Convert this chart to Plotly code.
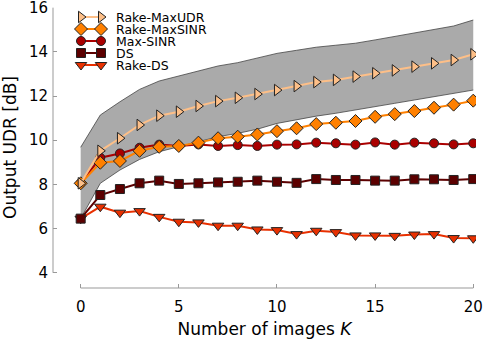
import plotly.graph_objects as go

K = list(range(21))

names = ["Rake-MaxUDR", "Rake-MaxSINR", "Max-SINR", "DS", "Rake-DS"]

rake_maxudr = [8.05, 9.52, 10.09, 10.69, 11.11, 11.29, 11.55, 11.77, 11.92, 12.09, 12.27,
               12.45, 12.63, 12.73, 12.88, 13.03, 13.16, 13.33, 13.48, 13.63, 13.89]
rake_maxsinr = [8.05, 8.98, 9.06, 9.52, 9.70, 9.74, 9.89, 10.09, 10.16, 10.26, 10.41,
                10.54, 10.73, 10.79, 10.87, 11.06, 11.18, 11.32, 11.47, 11.61, 11.79]
max_sinr = [8.05, 9.21, 9.40, 9.66, 9.80, 9.74, 9.81, 9.74, 9.78, 9.74, 9.80,
            9.81, 9.89, 9.86, 9.80, 9.90, 9.80, 9.89, 9.86, 9.81, 9.86]
ds = [6.45, 7.52, 7.79, 8.05, 8.17, 8.02, 8.05, 8.09, 8.12, 8.17, 8.12,
      8.07, 8.24, 8.20, 8.20, 8.17, 8.17, 8.23, 8.23, 8.20, 8.24]
rake_ds = [6.45, 6.99, 6.72, 6.79, 6.53, 6.31, 6.28, 6.13, 6.13, 5.96, 5.93,
           5.75, 5.90, 5.84, 5.69, 5.69, 5.67, 5.73, 5.75, 5.57, 5.56]

# spread of Rake-MaxUDR (shaded band)
band_upper = [9.68, 11.14, 11.74, 12.30, 12.68, 12.91, 13.13, 13.36, 13.51, 13.72, 13.93,
              14.07, 14.21, 14.30, 14.39, 14.54, 14.69, 14.84, 14.99, 15.17, 15.44]
band_lower = [6.45, 8.05, 8.65, 9.13, 9.48, 9.70, 9.93, 10.16, 10.31, 10.50, 10.76,
              10.93, 11.09, 11.22, 11.36, 11.51, 11.67, 11.82, 11.97, 12.12, 12.27]

series = [rake_maxudr, rake_maxsinr, max_sinr, ds, rake_ds]
colors = ["#fdbf88", "#ff8000", "#aa0000", "#5c0000", "#e83000"]
symbols = ["triangle-right", "diamond", "circle", "square", "triangle-down"]
sizes = [10, 10, 9, 9, 10]

fig = go.Figure()

fig.add_trace(go.Scatter(x=K, y=band_lower, mode="lines",
                         line=dict(color="#444444", width=0.8), showlegend=False))
fig.add_trace(go.Scatter(x=K, y=band_upper, mode="lines", fill="tonexty",
                         fillcolor="#aaaaaa", line=dict(color="#444444", width=0.8),
                         showlegend=False))

for name, vals, c, s, sz in reversed(list(zip(names, series, colors, symbols, sizes))):
    fig.add_trace(go.Scatter(
        x=K, y=vals, mode="lines+markers", name=name, showlegend=False,
        line=dict(color=c, width=2),
        marker=dict(symbol=s, size=sz, color=c, line=dict(color="#222222", width=1)),
    ))

# hand-made legend: two markers joined by a line, like matplotlib
for i, (name, c, s, sz) in enumerate(zip(names, colors, symbols, sizes)):
    fig.add_trace(go.Scatter(
        x=[0, 1], y=[i, i], mode="lines+markers", xaxis="x2", yaxis="y2",
        showlegend=False, hoverinfo="skip",
        line=dict(color=c, width=2),
        marker=dict(symbol=s, size=sz, color=c, line=dict(color="#222222", width=1)),
    ))
    fig.add_annotation(x=1.7, y=i, xref="x2", yref="y2", text=name, showarrow=False,
                       xanchor="left", yanchor="middle", borderpad=0,
                       font=dict(size=12.5, color="black"))

axis_gray = "#999999"
fig.add_shape(type="line", xref="x", yref="paper", x0=0, x1=20, y0=0, y1=0,
              line=dict(color=axis_gray, width=1))
fig.add_shape(type="line", xref="paper", yref="y", x0=0, x1=0, y0=4, y1=16,
              line=dict(color=axis_gray, width=1))

fig.update_layout(
    width=485, height=343,
    margin=dict(l=53, r=9, t=7, b=55),
    plot_bgcolor="white", paper_bgcolor="white",
    font=dict(family="DejaVu Sans", color="black"),
    xaxis=dict(range=[-1.41, 20.14], tickvals=[0, 5, 10, 15, 20], showgrid=False,
               zeroline=False, showline=False, ticks="inside", ticklen=4,
               tickcolor=axis_gray, tickfont=dict(size=15), ticklabelstandoff=8,
               automargin=False, ticklabeloverflow="allow",
               title=dict(text="Number of images <i>K</i>", font=dict(size=17),
                          standoff=8)),
    yaxis=dict(range=[3.31, 16.03], tickvals=[4, 6, 8, 10, 12, 14, 16], showgrid=False,
               zeroline=False, showline=False, ticks="inside", ticklen=4,
               tickcolor=axis_gray, tickfont=dict(size=15), ticklabelstandoff=4,
               automargin=False, ticklabeloverflow="allow",
               title=dict(text="Output UDR [dB]", font=dict(size=17), standoff=8)),
    xaxis2=dict(overlaying="x", anchor="y2", range=[-1.4, 19.75], visible=False),
    yaxis2=dict(overlaying="y", anchor="x2", range=[22.58, -0.833], visible=False),
)

# the page's default body margin would shift the figure by 8px
fig.write_html("out.html", config={"displayModeBar": False},
               post_script="document.body.style.margin = '0';")
